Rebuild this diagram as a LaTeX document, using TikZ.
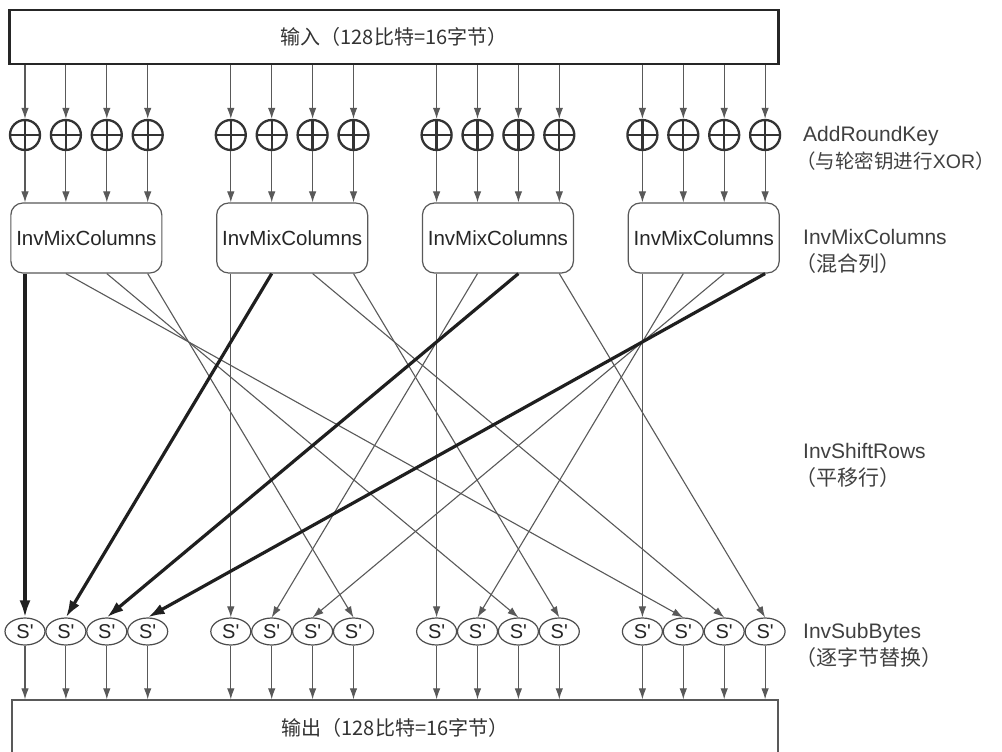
\documentclass[tikz,border=0pt]{standalone}
\usepackage{fontspec}
\setmainfont{Liberation Sans}[Ligatures=TeXOff]
\newfontfamily\cjk{Noto Sans CJK SC}
\usetikzlibrary{arrows.meta,shapes.geometric}
\begin{document}
\begin{tikzpicture}[x=1pt,y=-1pt,
  inbox/.style={draw=black!85, line width=2.6pt, fill=white, minimum width=769pt, minimum height=54pt, inner sep=0pt, font=\cjk\fontsize{20}{24}\selectfont, text=black!80},
  outbox/.style={draw=black!65, line width=1.3pt, fill=white, minimum width=766pt, minimum height=56pt, inner sep=0pt, font=\cjk\fontsize{20}{24}\selectfont, text=black!80},
  xorc/.style={circle, draw=black!80, line width=2.3pt, minimum size=30pt, inner sep=0pt,
    path picture={\draw[line width=2.3pt, black!80] (path picture bounding box.north) -- (path picture bounding box.south) (path picture bounding box.west) -- (path picture bounding box.east);}},
  mixbox/.style={draw=black!65, line width=1.2pt, rounded corners=12pt, fill=white, minimum width=151pt, minimum height=70pt, inner sep=0pt, font=\fontsize{20.5}{24}\selectfont, text=black!85},
  sbox/.style={ellipse, draw=black!70, line width=1.2pt, fill=white, minimum width=40pt, minimum height=27pt, inner sep=0pt, font=\fontsize{20}{24}\selectfont, text=black!85},
  arr/.style={draw=black!65, line width=1.1pt, -{Latex[length=11pt,width=7.5pt]}},
  thickarr/.style={draw=black!88, line width=3.2pt, -{Latex[length=17pt,width=11pt]}},
  lab/.style={anchor=west, align=left, text=black!75, font=\fontsize{21}{27}\selectfont, inner sep=0pt}
]
\path[use as bounding box] (0,0) rectangle (1002,752);
\clip (0,0) rectangle (1002,752);
\fill[white] (0,0) rectangle (1002,752);

\node[inbox] (in) at (394,37) {输入（128比特=16字节）};
\node[outbox] (out) at (395,728) {输出（128比特=16字节）};

\foreach \g in {0,...,3}{
  \foreach \r in {0,...,3}{
    \pgfmathsetmacro\cx{25+205.8*\g+40.9*\r}
    \node[xorc] (x\g\r) at (\cx,135) {};
    \node[sbox] (s\g\r) at (\cx,631.5) {S'};
  }
  \node[mixbox] (m\g) at ({25+205.8*\g+61.35},238) {InvMixColumns};
}

\foreach \g in {0,...,3}{
  \foreach \r in {0,...,3}{
    \draw[arr] (in.south -| x\g\r) -- (x\g\r.north);
    \draw[arr] (x\g\r.south) -- (x\g\r |- m\g.north);
    \draw[arr] (s\g\r.south) -- (s\g\r |- out.north);
  }
}

% InvShiftRows connections: thin first, thick on top
\foreach \g in {0,...,3}{
  \foreach \r in {0,...,3}{
    \pgfmathtruncatemacro\d{mod(\g-\r+4,4)}
    \ifnum\d>0
      \draw[arr] (x\g\r |- m\g.south) -- (s\d\r.north);
    \fi
  }
}
\foreach \g in {0,...,3}{
  \foreach \r in {0,...,3}{
    \pgfmathtruncatemacro\d{mod(\g-\r+4,4)}
    \ifnum\d=0
      \draw[thickarr] (x\g\r |- m\g.south) -- (s\d\r.north);
    \fi
  }
}

\node[lab] (l1) at (803,148) {AddRoundKey\\{\fontsize{19.5}{27}\selectfont{\cjk\kern-0.35em（与轮密钥进行}XOR{\cjk）\kern-0.55em}}};
\node[lab] (l2) at (803,251.5) {InvMixColumns\\{\cjk\kern-0.35em（混合列）}};
\node[lab] (l3) at (803,465) {InvShiftRows\\{\cjk\kern-0.35em（平移行）}};
\node[lab] (l4) at (803,645) {InvSubBytes\\{\cjk\kern-0.35em（逐字节替换）}};
\end{tikzpicture}
\end{document}
